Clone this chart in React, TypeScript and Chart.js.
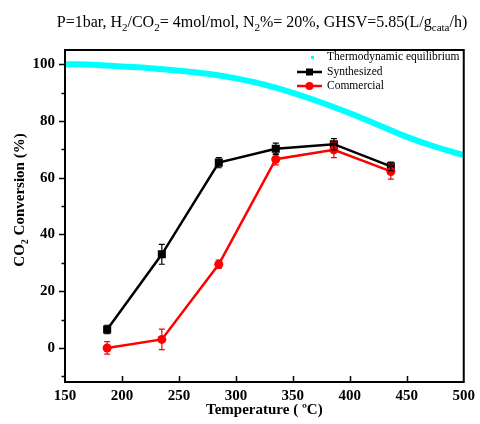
import React, { useEffect, useRef } from "react";
import { Chart, registerables } from "chart.js";

Chart.register(...registerables);

const FONT = '"Liberation Serif", "Times New Roman", serif';

// Data
const temperatures = [187, 235, 285, 335, 386, 436];
const synthesized = [6.5, 33, 65.3, 70.2, 71.8, 64];
const synthesizedErr = [1.5, 3.5, 1.8, 2, 2, 1.5];
const commercial = [0, 3, 29.5, 66.5, 69.8, 62.2];
const commercialErr = [2.2, 3.6, 1.5, 2, 2.7, 2.7];
const eqTemps = [150, 175, 200, 225, 250, 275, 300, 325, 350, 375, 400, 425, 450, 475, 500];
const eqValues = [100, 99.8, 99.2, 98.6, 97.7, 96.6, 95.0, 92.8, 89.9, 86.5, 82.7, 78.6, 74.4, 70.9, 68];
const xTickValues = [200, 250, 300, 350, 400, 450];
const yTickValues = [-10, 0, 10, 20, 30, 40, 50, 60, 70, 80, 90, 100];

const titleSegs: [string, boolean][] = [
  ["P=1bar, H", false], ["2", true], ["/CO", false], ["2", true],
  ["= 4mol/mol, N", false], ["2", true], ["%= 20%, GHSV=5.85(L/g", false],
  ["cata", true], ["/h)", false],
];
const yTitleSegs: [string, boolean][] = [["CO", false], ["2", true], [" Conversion (%)", false]];
const xTitle = "Temperature ( \u00BAC)";

function drawRich(ctx: CanvasRenderingContext2D, segs: [string, boolean][], x: number, y: number, size: number, bold: boolean) {
  const main = `${bold ? "bold " : ""}${size}px ${FONT}`;
  const sub = `${bold ? "bold " : ""}${Math.round(size * 0.68)}px ${FONT}`;
  let total = 0;
  for (const [t, s] of segs) {
    ctx.font = s ? sub : main;
    total += ctx.measureText(t).width;
  }
  let cx = x - total / 2;
  ctx.textAlign = "left";
  ctx.textBaseline = "alphabetic";
  for (const [t, s] of segs) {
    ctx.font = s ? sub : main;
    ctx.fillText(t, cx, s ? y + size * 0.28 : y);
    cx += ctx.measureText(t).width;
  }
}

const errorBars = {
  id: "errorBars",
  afterDatasetsDraw(chart: any) {
    const ctx = chart.ctx;
    const xs = chart.scales.x;
    const ys = chart.scales.y;
    const sets = [
      { vals: commercial, errs: commercialErr, color: "#ff0000" },
      { vals: synthesized, errs: synthesizedErr, color: "#000000" },
    ];
    ctx.save();
    for (const s of sets) {
      ctx.strokeStyle = s.color;
      ctx.lineWidth = 1.2;
      s.vals.forEach((v, i) => {
        const px = xs.getPixelForValue(temperatures[i]);
        const top = ys.getPixelForValue(v + s.errs[i]);
        const bot = ys.getPixelForValue(v - s.errs[i]);
        ctx.beginPath();
        ctx.moveTo(px, top);
        ctx.lineTo(px, bot);
        ctx.moveTo(px - 3, top);
        ctx.lineTo(px + 3, top);
        ctx.moveTo(px - 3, bot);
        ctx.lineTo(px + 3, bot);
        ctx.stroke();
      });
    }
    ctx.restore();
  },
};

const decorations = {
  id: "decorations",
  afterDraw(chart: any) {
    const ctx = chart.ctx;
    const { left, right, top, bottom } = chart.chartArea;
    const xs = chart.scales.x;
    const ys = chart.scales.y;
    ctx.save();
    ctx.strokeStyle = "#000";
    ctx.lineWidth = 2;
    ctx.strokeRect(left, top, right - left, bottom - top);
    ctx.lineWidth = 1.5;
    ctx.beginPath();
    for (const v of yTickValues) {
      const py = Math.round(ys.getPixelForValue(v)) + 0.5;
      const len = v % 20 === 0 ? 6 : 3.5;
      ctx.moveTo(left - len, py);
      ctx.lineTo(left, py);
    }
    for (const v of xTickValues) {
      const px = Math.round(xs.getPixelForValue(v)) + 0.5;
      ctx.moveTo(px, bottom);
      ctx.lineTo(px, bottom - 6);
    }
    ctx.stroke();

    ctx.fillStyle = "#000";
    // Title
    drawRich(ctx, titleSegs, 262, 27, 16, false);
    // X title
    ctx.font = `bold 15px ${FONT}`;
    ctx.textAlign = "center";
    ctx.textBaseline = "alphabetic";
    ctx.fillText(xTitle, (left + right) / 2, 414);
    // Y title
    ctx.save();
    ctx.translate(24, 200);
    ctx.rotate(-Math.PI / 2);
    drawRich(ctx, yTitleSegs, 0, 0, 15, true);
    ctx.restore();

    // Legend
    const ds = chart.data.datasets;
    ctx.font = `11.5px ${FONT}`;
    ctx.textAlign = "left";
    ctx.textBaseline = "middle";
    // equilibrium
    ctx.fillStyle = ds[0].borderColor;
    ctx.fillRect(311, 56, 3, 3);
    ctx.fillStyle = "#000";
    ctx.fillText(ds[0].label, 327, 57);
    // synthesized
    ctx.strokeStyle = ds[1].borderColor;
    ctx.lineWidth = 2.5;
    ctx.beginPath();
    ctx.moveTo(297, 72);
    ctx.lineTo(322, 72);
    ctx.stroke();
    ctx.fillStyle = ds[1].borderColor;
    ctx.fillRect(306, 68.5, 7, 7);
    ctx.fillStyle = "#000";
    ctx.fillText(ds[1].label, 327, 72);
    // commercial
    ctx.strokeStyle = ds[2].borderColor;
    ctx.beginPath();
    ctx.moveTo(297, 86);
    ctx.lineTo(322, 86);
    ctx.stroke();
    ctx.fillStyle = ds[2].borderColor;
    ctx.beginPath();
    ctx.arc(309.5, 86, 4, 0, Math.PI * 2);
    ctx.fill();
    ctx.fillStyle = "#000";
    ctx.fillText(ds[2].label, 327, 86);
    ctx.restore();
  },
};

export default function App() {
  const ref = useRef<HTMLCanvasElement | null>(null);
  useEffect(() => {
    if (!ref.current) return;
    const chart = new Chart(ref.current, {
      type: "line",
      data: {
        datasets: [
          {
            label: "Thermodynamic equilibrium",
            data: eqTemps.map((t, i) => ({ x: t, y: eqValues[i] })),
            borderColor: "#00ffff",
            backgroundColor: "#00ffff",
            borderWidth: 6,
            pointRadius: 0,
            tension: 0.4,
            order: 3,
          },
          {
            label: "Synthesized",
            data: temperatures.map((t, i) => ({ x: t, y: synthesized[i] })),
            borderColor: "#000000",
            backgroundColor: "#000000",
            borderWidth: 2.5,
            pointStyle: "rect",
            pointRadius: 5.7,
            pointBorderWidth: 0,
            order: 2,
          },
          {
            label: "Commercial",
            data: temperatures.map((t, i) => ({ x: t, y: commercial[i] })),
            borderColor: "#ff0000",
            backgroundColor: "#ff0000",
            borderWidth: 2.5,
            pointStyle: "circle",
            pointRadius: 4.5,
            pointBorderWidth: 0,
            order: 1,
          },
        ],
      } as any,
      options: {
        responsive: false,
        animation: false,
        layout: { padding: { top: 50, right: 13, left: 0, bottom: 0 } },
        plugins: { legend: { display: false }, tooltip: { enabled: false }, title: { display: false } },
        scales: {
          x: {
            type: "linear",
            min: 150,
            max: 500,
            grid: { display: false, drawTicks: false },
            border: { display: false },
            ticks: {
              stepSize: 50,
              padding: 5,
              color: "#000",
              maxRotation: 0,
              autoSkip: false,
              font: { family: FONT, size: 15, weight: "bold" },
            },
            afterFit: (s: any) => { s.height = 42; },
          },
          y: {
            type: "linear",
            min: -12,
            max: 105,
            grid: { display: false, drawTicks: false },
            border: { display: false },
            ticks: {
              stepSize: 10,
              includeBounds: false,
              padding: 10,
              color: "#000",
              autoSkip: false,
              font: { family: FONT, size: 15, weight: "bold" },
              callback: (v: any) => (Number(v) % 20 === 0 ? String(v) : ""),
            },
            afterFit: (s: any) => { s.width = 65; },
          },
        },
      } as any,
      plugins: [errorBars, decorations],
    });
    return () => chart.destroy();
  }, []);
  return (
    <div style={{ position: "fixed", left: 0, top: 0, width: 480, height: 424, background: "#fff" }}>
      <canvas ref={ref} width={480} height={424} style={{ display: "block" }} />
    </div>
  );
}
